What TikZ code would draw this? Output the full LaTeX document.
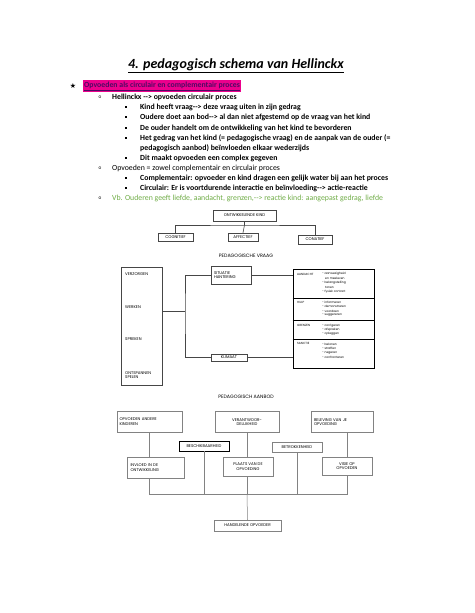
\documentclass[tikz,border=0pt]{standalone}
\usepackage{fontspec}
\newfontfamily\bodyfont{Carlito}
\newfontfamily\diafont{Poppins}
\newfontfamily\symfont{DejaVu Sans}
\definecolor{hlpurple}{RGB}{80,10,100}
\definecolor{vbgreen}{RGB}{112,173,71}
\definecolor{lnA}{RGB}{70,70,70}
\definecolor{lnB}{RGB}{130,130,130}
\begin{document}
\begin{tikzpicture}[x=1pt,y=-1pt,
  body/.style={anchor=west,inner sep=0,font=\bodyfont\fontsize{7.8}{9}\selectfont},
  bodyb/.style={body,font=\bodyfont\bfseries\fontsize{7.8}{9}\selectfont},
  obullet/.style={inner sep=0,font=\ttfamily\fontsize{6}{6}\selectfont},
  sqbullet/.style={fill=black,inner sep=0,minimum size=2.2,draw=none},
  dbox/.style={draw=lnA,line width=0.5pt,inner sep=1pt,font=\diafont\fontsize{4}{4.8}\selectfont,align=center},
  dboxb/.style={dbox,draw=lnB},
  dlab/.style={inner sep=0,anchor=west,font=\diafont\fontsize{4}{4.8}\selectfont,align=left},
  tiny/.style={inner sep=0,anchor=west,font=\diafont\fontsize{3}{3.4}\selectfont},
  conA/.style={draw=lnA,line width=0.6pt},
  conB/.style={draw=lnB,line width=0.5pt}]
\useasboundingbox[fill=white] (0,0) rectangle (474,613);

% title
\node[inner sep=0] (title) at (236,66) {\bodyfont\bfseries\itshape\fontsize{14}{16}\selectfont\underline{4. pedagogisch schema van Hellinckx}};

% heading
\node (star) at (73,86) {\symfont\fontsize{7}{7}\selectfont ★};
\node[fill=magenta,anchor=west,inner xsep=1pt,inner ysep=1.5pt,text=hlpurple] (head) at (83,86)
  {\bodyfont\bfseries\fontsize{7.8}{9}\selectfont\underline{Opvoeden als circulair en complementair proces}};

% list
\node[obullet] (o1) at (100,97) {o};
\node[bodyb] (t1) at (112,97) {Hellinckx -{}-> opvoeden circulair proces};
\node[sqbullet] (b1) at (126,107) {};
\node[bodyb] (t2) at (140,107) {Kind heeft vraag-{}-> deze vraag uiten in zijn gedrag};
\node[sqbullet] (b2) at (126,117) {};
\node[bodyb] (t3) at (140,117) {Oudere doet aan bod-{}-> al dan niet afgestemd op de vraag van het kind};
\node[sqbullet] (b3) at (126,128) {};
\node[bodyb] (t4) at (140,128) {De ouder handelt om de ontwikkeling van het kind te bevorderen};
\node[sqbullet] (b4) at (126,138) {};
\node[bodyb] (t5) at (140,138) {Het gedrag van het kind (= pedagogische vraag) en de aanpak van de ouder (=};
\node[bodyb] (t5b) at (140,148) {pedagogisch aanbod) beïnvloeden elkaar wederzijds};
\node[sqbullet] (b5) at (126,158) {};
\node[bodyb] (t6) at (140,158) {Dit maakt opvoeden een complex gegeven};
\node[obullet] (o2) at (100,168) {o};
\node[body] (t7) at (112,168) {Opvoeden = zowel complementair en circulair proces};
\node[sqbullet] (b6) at (126,178) {};
\node[bodyb] (t8) at (140,178) {Complementair: opvoeder en kind dragen een gelijk water bij aan het proces};
\node[sqbullet] (b7) at (126,188) {};
\node[bodyb] (t9) at (140,188) {Circulair: Er is voortdurende interactie en beïnvloeding-{}-> actie-reactie};
\node[obullet] (o3) at (100,198) {o};
\node[body,text=vbgreen] (t10) at (112,198) {Vb. Ouderen geeft liefde, aandacht, grenzen,-{}-> reactie kind: aangepast gedrag, liefde};

% ontwikkelende kind tree
\node[dbox,minimum width=63,minimum height=11] (ontw) at (244.5,215.5) {ONTWIKKELENDE KIND};
\node[dbox,minimum width=35,minimum height=8] (cogn) at (175.5,237) {COGNITIEF};
\node[dbox,minimum width=30,minimum height=8] (affe) at (243,237) {AFFECTIEF};
\node[dbox,minimum width=34,minimum height=9] (cona) at (315,239.5) {CONATIEF};
\coordinate (hub) at (244.5,225);
\draw[conA] (ontw.south) -- (hub);
\draw[conA] (cogn.north) |- (hub) -| (cona.north);
\draw[conA] (hub) -- (affe.north);

% pedagogische vraag
\node[inner sep=0,font=\diafont\fontsize{4.8}{5}\selectfont] (vraag) at (246,256) {PEDAGOGISCHE VRAAG};
\node[dbox,minimum width=41,minimum height=118] (left) at (141.5,326) {};
\node[dlab] (l1) at (125,274) {VERZORGEN};
\node[dlab] (l2) at (125,307) {WERKEN};
\node[dlab] (l3) at (125,339) {SPREKEN};
\node[dlab] (l4) at (125,375) {ONTSPANNEN\\SPELEN};
\node[dbox,minimum width=40,minimum height=18,align=left,text width=34] (sit) at (231,275) {SITUATIE\\HANTERING};
\node[dbox,minimum width=36,minimum height=7] (klim) at (229,357.5) {KLIMAAT};
\node[draw=black,line width=1pt,minimum width=81,minimum height=99,inner sep=0] (rbox) at (333.5,318.5) {};
\draw[line width=0.8pt] (rbox.west |- 0,298) -- (rbox.east |- 0,298);
\draw[line width=0.8pt] (rbox.west |- 0,320) -- (rbox.east |- 0,320);
\draw[line width=0.8pt] (rbox.west |- 0,339) -- (rbox.east |- 0,339);
\coordinate (split) at (185,311);
\draw[conA] (left.east |- split) -- (split);
\draw[conA] (sit.west) -| (split) |- (klim.west);
\draw[conA] (sit.east) -- (sit.east -| rbox.west);
\draw[conA] (klim.east) -- (klim.east -| rbox.west);
% right box contents
\node[tiny] (r1) at (297,274) {AANDACHT};
\node[tiny] (r1a) at (322,274) {- aanwezigheid};
\node[tiny] (r1b) at (325,278.5) {en meeleven};
\node[tiny] (r1c) at (322,283) {- belangstelling};
\node[tiny] (r1d) at (325,287.5) {tonen};
\node[tiny] (r1e) at (322,292) {- fysiek contact};
\node[tiny] (r2) at (297,302) {HULP};
\node[tiny] (r2a) at (322,302) {- informeren};
\node[tiny] (r2b) at (322,306.5) {- demonstreren};
\node[tiny] (r2c) at (322,311) {- voordoen};
\node[tiny] (r2d) at (322,315.5) {- suggereren};
\node[tiny] (r3) at (297,325) {GRENZEN};
\node[tiny] (r3a) at (322,325.5) {- corrigeren};
\node[tiny] (r3b) at (322,329.5) {- afspreken};
\node[tiny] (r3c) at (322,333.5) {- opleggen};
\node[tiny] (r4) at (297,343) {SANCTIE};
\node[tiny] (r4a) at (322,344) {- belonen};
\node[tiny] (r4b) at (322,348.5) {- straffen};
\node[tiny] (r4c) at (322,353) {- negeren};
\node[tiny] (r4d) at (322,357.5) {- confronteren};

% pedagogisch aanbod
\node[inner sep=0,font=\diafont\fontsize{4.8}{5}\selectfont] (aanbod) at (246,397) {PEDAGOGISCH AANBOD};
\node[dboxb,minimum width=65,minimum height=21,align=left,text width=60] (opak) at (149.5,421.5) {OPVOEDEN ANDERE\\KINDEREN};
\node[dboxb,minimum width=64,minimum height=21] (veran) at (247,422) {VERANTWOOR-\\DELIJKHEID};
\node[dboxb,minimum width=62,minimum height=21,align=left,text width=56] (belev) at (342,422) {BELEVING VAN JE\\OPVOEDING};
\node[dbox,draw=black,line width=0.8pt,minimum width=50,minimum height=10] (besch) at (204,446) {BESCHIKBAARHEID};
\node[dboxb,minimum width=50,minimum height=10] (betro) at (297,447) {BETROKKENHEID};
\node[dboxb,minimum width=57,minimum height=21,align=left,text width=50] (invl) at (155.5,467.5) {INVLOED IN DE\\ONTWIKKELING};
\node[dboxb,minimum width=50,minimum height=19] (plaats) at (248,466.5) {PLAATS VAN DE\\OPVOEDING};
\node[dboxb,minimum width=50,minimum height=18] (visie) at (347,466) {VISIE OP\\OPVOEDEN};
\node[dboxb,minimum width=67,minimum height=11] (hand) at (247.5,525.5) {HANDELENDE OPVOEDER};
\coordinate (bus) at (247,494);
\draw[conB] (opak.south) -- (opak.south |- invl.north);
\draw[conB] (opak.south |- invl.south) |- (bus);
\draw[conB] (veran.south) -- (veran.south |- plaats.north);
\draw[conB] (veran.south |- plaats.south) -- (bus);
\draw[conB] (visie.north |- belev.south) -- (visie.north);
\draw[conB] (visie.south) |- (bus);
\draw[conB] (besch.south) -- (besch.south |- bus);
\draw[conB] (betro.south) -- (betro.south |- bus);
\draw[conB] (bus) -- (hand.north);
\end{tikzpicture}
\end{document}
